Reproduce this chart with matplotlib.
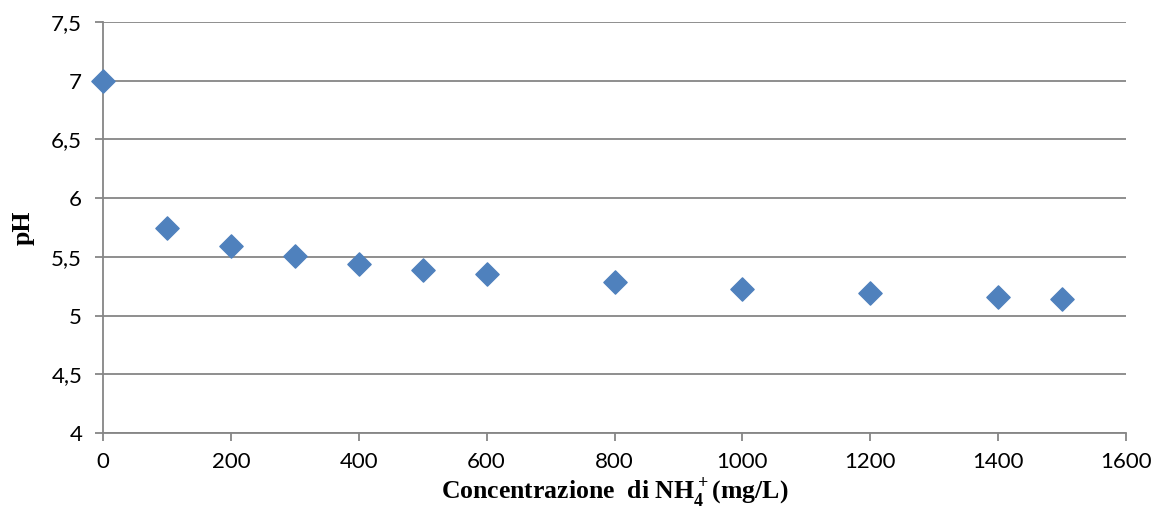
import matplotlib.pyplot as plt
from matplotlib.ticker import FuncFormatter, MultipleLocator

# NH4+ concentration (mg/L) vs pH
conc = [0, 100, 200, 300, 400, 500, 600, 800, 1000, 1200, 1400, 1500]
ph = [7.0, 5.75, 5.595, 5.51, 5.44, 5.39, 5.355, 5.285, 5.23, 5.195, 5.155, 5.14]

plt.rcParams['mathtext.fontset'] = 'custom'
plt.rcParams['mathtext.rm'] = 'Liberation Serif:bold'
plt.rcParams['mathtext.bf'] = 'Liberation Serif:bold'

grid_color = '#868686'

fig = plt.figure(figsize=(11.56, 5.19), dpi=100)
ax = fig.add_axes([103 / 1156, 86 / 519, 1023 / 1156, 411 / 519])

ax.scatter(conc, ph, marker='D', s=140, color='#4F81BD', zorder=3, clip_on=False)

ax.set_xlim(0, 1600)
ax.set_ylim(4, 7.5)
ax.xaxis.set_major_locator(MultipleLocator(200))
ax.yaxis.set_major_locator(MultipleLocator(0.5))

fmt = FuncFormatter(lambda v, p: f'{v:g}'.replace('.', ','))
ax.xaxis.set_major_formatter(fmt)
ax.yaxis.set_major_formatter(fmt)

ax.grid(axis='y', color=grid_color, linewidth=1.3)
ax.set_axisbelow(True)
for side in ['top', 'right']:
    ax.spines[side].set_visible(False)
for side in ['left', 'bottom']:
    ax.spines[side].set_color(grid_color)
    ax.spines[side].set_linewidth(1.3)

ax.tick_params(axis='both', colors=grid_color, length=6, width=1.3,
               labelcolor='black', labelsize=16)
ax.tick_params(axis='y', pad=9)
ax.tick_params(axis='x', pad=8)
for lbl in ax.get_xticklabels() + ax.get_yticklabels():
    lbl.set_fontfamily('Lato')

ax.set_xlabel(r'Concentrazione  di NH$_4^+$(mg/L)', fontfamily='Liberation Serif',
              fontweight='bold', fontsize=18.5, labelpad=2)
ax.set_ylabel('pH', fontfamily='Liberation Serif', fontweight='bold',
              fontsize=18.5, labelpad=12)

fig.savefig('out.png', dpi=100)
